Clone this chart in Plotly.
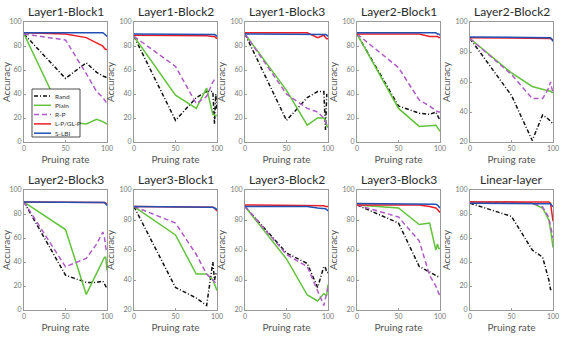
import plotly.graph_objects as go
from plotly.subplots import make_subplots

# ---------------------------------------------------------------------------
# Data
# ---------------------------------------------------------------------------
TITLES = ["Layer1-Block1", "Layer1-Block2", "Layer1-Block3", "Layer2-Block1",
          "Layer2-Block2", "Layer2-Block3", "Layer3-Block1", "Layer3-Block2",
          "Layer3-Block3", "Linear-layer"]
Y_MIN = [0, 0, 0, 0, 20, 0, 20, 20, 20, 0]
X = [0, 50, 75, 87.5, 95, 97, 98.5, 100]

RAND = [
    [90, 53, 66, 58, 55, 54, 54, 55],
    [88, 18, 37, 42, 42, 15, 40, 26],
    [90, 18, 37, 42, 42, 10, 40, 38],
    [90, 30, 24, 23, 25, 22, 20, 18],
    [89, 51, 21, 38, 35, 34, 33, 32],
    [90, 29, 23, 23, 24, 22, 20, 18],
    [89, 35, 28, 23, 52, 40, 44, 44],
    [89, 58, 51, 35, 49, 48, 45, 45],
    [90, 78, 49, 45, 43, 42, 42, 42],
    [89, 78, 50, 44, 25, 17, 17, 17],
]
PLAIN = [
    [90, 17, 15, 19, 17, 16, 15, 15],
    [88, 39, 28, 45, 23, 22, 22, 22],
    [90, 43, 14, 20, 20, 18, 14, 12],
    [90, 28, 13, 14, 14, 12, 10, 9],
    [89, 66, 57, 55, 54, 54, 53, 53],
    [90, 67, 13, 31, 42, 44, 44, 33],
    [89, 70, 44, 44, 40, 37, 35, 33],
    [89, 54, 30, 26, 31, 30, 30, 37],
    [90, 88, 77, 78, 60, 64, 61, 61],
    [90, 90, 89, 85, 75, 68, 60, 52],
]
RP = [
    [90, 85, 57, 42, 37, 35, 33, 32],
    [88, 63, 32, 38, 50, 52, 52, 52],
    [90, 40, 28, 25, 20, 17, 14, 12],
    [90, 62, 35, 30, 26, 25, 25, 25],
    [89, 65, 49, 49, 56, 60, 56, 53],
    [90, 36, 43, 55, 65, 60, 52, 48],
    [89, 78, 57, 44, 40, 39, 38, 37],
    [89, 57, 49, 32, 23, 28, 33, 35],
    [90, 82, 66, 43, 36, 33, 31, 30],
    [90, 90, 89, 86, 77, 71, 65, 60],
]
LP = [
    [91, 90, 87, 83, 80, 78, 77, 77],
    [89, 89, 89, 88.5, 88, 88, 87, 86],
    [91, 91, 91, 87, 89, 87, 86, 86],
    [90, 90, 90, 88, 88, 88, 87, 87],
    [89.5, 89.5, 89.5, 89.5, 89.5, 89, 88.5, 88],
    [90, 90, 90, 90, 90, 89.5, 89, 88],
    [89, 89, 89, 89, 88.5, 88, 87, 86],
    [90, 90, 90, 89.5, 89.5, 89, 89, 89],
    [90, 90, 90, 89, 88, 87, 86, 85],
    [90, 90, 90, 90, 90, 89, 82, 74],
]
SLBI = [
    [91, 91, 91, 91, 91, 90, 89, 88],
    [90, 90, 90, 90, 90, 89.5, 89, 88],
    [90, 90, 90, 90, 90, 89.5, 89, 88],
    [91, 91, 91, 91, 91, 90, 90, 89],
    [90, 90, 90, 90, 90, 89.5, 88.5, 87],
    [90, 90, 90, 90, 90, 89.5, 88.5, 87],
    [89, 89, 89, 88.5, 88.5, 88, 87.5, 87],
    [89, 89, 89, 88, 88, 87.5, 87, 86],
    [91, 91, 91, 91, 90.5, 90, 89, 88],
    [89, 89, 89, 89, 89, 88.5, 87, 86],
]

SERIES = [
    ("Rand", RAND, "#111111", "4px,2px,1px,2px"),
    ("Plain", PLAIN, "#62c23a", "solid"),
    ("R-P", RP, "#b05cc8", "5px,3px"),
    ("L-P/GL-P", LP, "#ee1c25", "solid"),
    ("S-LBI", SLBI, "#2151b5", "solid"),
]

FONT = "Lato"
W, H = 565, 340
LEFTS = [24, 134, 245, 357, 470]
PW = 83
ROWS = [(22, 142), (190, 310)]

fig = make_subplots(rows=2, cols=5)

for i in range(10):
    r, c = divmod(i, 5)
    for name, data, color, dash in SERIES:
        fig.add_trace(go.Scatter(
            x=X, y=data[i], mode="lines", name=name, showlegend=False,
            line=dict(color=color, width=1.5, dash=dash),
        ), row=r + 1, col=c + 1)

    top, bot = ROWS[r]
    x0 = LEFTS[c]
    fig.update_xaxes(
        domain=[x0 / W, (x0 + PW) / W], range=[0, 100],
        tickvals=[0, 50, 100], row=r + 1, col=c + 1,
        title=dict(text="Pruing rate", standoff=4,
                   font=dict(size=10, color="#555")),
    )
    fig.update_yaxes(
        domain=[1 - bot / H, 1 - top / H], range=[Y_MIN[i], 100],
        tickvals=list(range(Y_MIN[i], 101, 20)), row=r + 1, col=c + 1,
        title=dict(text="Accuracy", standoff=2,
                   font=dict(size=10, color="#555")),
    )
    fig.add_annotation(
        text=TITLES[i], x=(x0 + PW / 2) / W, y=1 - (top - 1) / H,
        xref="paper", yref="paper", xanchor="center", yanchor="bottom",
        showarrow=False, font=dict(size=12, color="#2a2a2a", family=FONT),
    )

fig.update_xaxes(showline=True, mirror=True, linecolor="#9a9a9a", linewidth=1,
                 ticks="inside", ticklen=2, tickcolor="#9a9a9a",
                 showgrid=False, zeroline=False, automargin=False,
                 tickfont=dict(size=7, color="#777"))
fig.update_yaxes(showline=True, mirror=True, linecolor="#9a9a9a", linewidth=1,
                 ticks="inside", ticklen=2, tickcolor="#9a9a9a",
                 showgrid=False, zeroline=False, automargin=False,
                 tickfont=dict(size=7, color="#777"))

# Hand-drawn legend inside the first panel (plotly's legend rows are too tall)
LEG_BOX = (32, 89, 80, 137)
fig.add_shape(type="rect", xref="paper", yref="paper",
              x0=LEG_BOX[0] / W, x1=LEG_BOX[2] / W,
              y0=1 - LEG_BOX[3] / H, y1=1 - LEG_BOX[1] / H,
              line=dict(color="#222", width=0.8), fillcolor="white", layer="above")
for k, (name, _, color, dash) in enumerate(SERIES):
    yy = 1 - (96 + k * 9.3) / H
    fig.add_shape(type="line", xref="paper", yref="paper",
                  x0=34 / W, x1=51 / W, y0=yy, y1=yy, layer="above",
                  line=dict(color=color, width=1.5, dash=dash))
    fig.add_annotation(text=name, x=53 / W, y=yy, xref="paper", yref="paper",
                       xanchor="left", yanchor="middle", showarrow=False,
                       font=dict(size=6.5, color="#333", family=FONT))

fig.update_layout(
    width=W, height=H, margin=dict(l=0, r=0, t=0, b=0),
    paper_bgcolor="white", plot_bgcolor="white",
    font=dict(family=FONT), showlegend=False,
)

# the page's default body margin would shift the whole figure
fig.write_html("out.html", config={"displayModeBar": False},
               post_script="document.body.style.margin='0';")
